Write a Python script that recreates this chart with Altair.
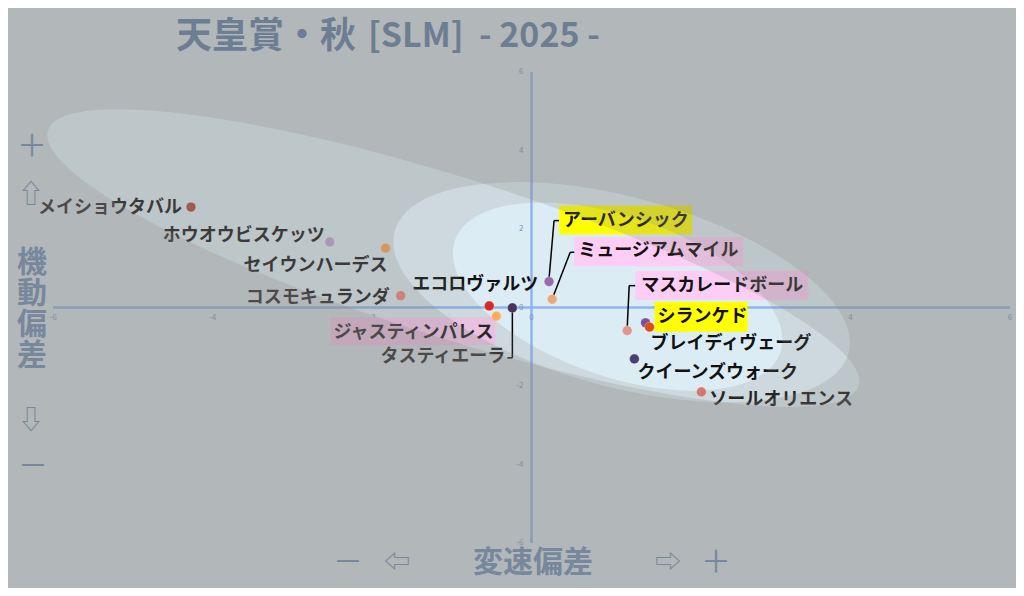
import altair as alt
import pandas as pd

# ---------------- data ----------------
horses = ["メイショウタバル", "ホウオウビスケッツ", "セイウンハーデス", "コスモキュランダ",
          "エコロヴァルツ", "ジャスティンパレス", "タスティエーラ", "アーバンシック",
          "ミュージアムマイル", "マスカレードボール", "シランケド", "ブレイディヴェーグ",
          "クイーンズウォーク", "ソールオリエンス"]
speed_dev = [-4.27, -2.53, -1.83, -1.64, -0.53, -0.44, -0.24, 0.22, 0.26, 1.20, 1.43, 1.48, 1.29, 2.13]
mobility_dev = [2.56, 1.67, 1.51, 0.30, 0.04, -0.22, -0.01, 0.66, 0.21, -0.59, -0.39, -0.50, -1.31, -2.15]
highlight = ["", "", "", "", "", "pink", "", "yellow", "pink", "pink", "yellow", "", "", ""]

tick_values = [-6, -4, -2, 0, 2, 4, 6]
axis_range = [-6, 6]

# density-ellipse centres (data units)
ellipse_names = ["outer", "middle", "inner"]
ellipse_cx = [-0.98, 1.13, 1.08]
ellipse_cy = [1.26, 0.39, 0.28]

title_main = "天皇賞・秋"
title_sub = "[SLM]\u00a0\u00a0- 2025 -"

# ---------------- styles / layout ----------------
FONT = "Noto Sans CJK JP"
SYM_FONT = "Noto Sans CJK JP, DejaVu Sans"
BG = "#dcecf4"
VEIL = "#888380"
AXIS_COLOR = "#8fb6ea"
TICK_COLOR = "#7a95c4"
DECOR_COLOR = "#77889c"
TITLE_COLOR = "#6d7e92"
dot_colors = ["#ad433d", "#b8a8d0", "#ffa154", "#f4827b", "#d62c27", "#ffac5e", "#4a3264",
              "#9a6aae", "#eba878", "#e1968c", "#7a50a0", "#dc5014", "#4b3d6e", "#e07770"]
mark_colors = {"yellow": "#ffff00", "pink": "#fdcdf6"}

# label placement: align, dx, dy (pixels from the point)
label_layout = {
    "メイショウタバル": ("right", -9, 1),
    "ホウオウビスケッツ": ("right", -5, -6),
    "セイウンハーデス": ("right", 2, 18),
    "コスモキュランダ": ("right", -11, 2),
    "エコロヴァルツ": ("right", 49, -21),
    "ジャスティンパレス": ("right", -3, 17),
    "タスティエーラ": ("right", -7, 49),
    "アーバンシック": ("left", 14, -61),
    "ミュージアムマイル": ("left", 26, -48),
    "マスカレードボール": ("left", 14, -45),
    "シランケド": ("left", 12, -6),
    "ブレイディヴェーグ": ("left", 1, 17),
    "クイーンズウォーク": ("left", 3, 14),
    "ソールオリエンス": ("left", 8, 8),
}
# highlight boxes: x1, x2, y1, y2 offsets (pixels)
box_layout = {
    "ジャスティンパレス": (-166, -1, 1, 29),
    "アーバンシック": (10, 143, -76, -47),
    "ミュージアムマイル": (22, 191, -62, -33),
    "マスカレードボール": (8, 181, -60, -31),
    "シランケド": (9, 102, -21, 9),
}
# leader segments: (dx1, dy1, dx2, dy2)
leader_layout = {
    "タスティエーラ": [(0, 2, 0, 50), (0, 50, -5, 50)],
    "アーバンシック": [(0, -3, 5, -61), (5, -61, 10, -61)],
    "ミュージアムマイル": [(1, -3, 18, -47), (18, -47, 22, -47)],
    "マスカレードボール": [(0, -3, 2, -45), (2, -45, 8, -45)],
}
# ellipse geometry: semi-major, semi-minor (px), angle (deg), veil opacity
ellipse_geom = {
    "outer": (425, 80, 17.5, 0.22),
    "middle": (235, 95, 15, 0.22),
    "inner": (172, 80, 19, 0.18),
}

W, H = 957, 471

xs = alt.Scale(domain=axis_range, nice=False, zero=False)
ys = alt.Scale(domain=axis_range, nice=False, zero=False)


def X(f):
    return alt.X(f, type="quantitative", scale=xs, axis=None)


def Y(f):
    return alt.Y(f, type="quantitative", scale=ys, axis=None)


df = pd.DataFrame({"horse": horses, "x": speed_dev, "y": mobility_dev, "mark": highlight})
ticks = pd.DataFrame({"v": tick_values, "zero": [0] * len(tick_values),
                      "label": [str(v) for v in tick_values]})
hline = pd.DataFrame({"x": [axis_range[0]], "x2": [axis_range[1]], "y": [0]})
vline = pd.DataFrame({"y": [axis_range[0]], "y2": [axis_range[1]], "x": [0]})
ell = pd.DataFrame({"name": ellipse_names, "cx": ellipse_cx, "cy": ellipse_cy})
one = pd.DataFrame({"a": [0]})

layers = []
# axis lines
layers.append(alt.Chart(hline).mark_rule(color=AXIS_COLOR, strokeWidth=2.5).encode(
    x=X("x"), x2="x2", y=Y("y")))
layers.append(alt.Chart(vline).mark_rule(color=AXIS_COLOR, strokeWidth=2.5).encode(
    y=Y("y"), y2="y2", x=X("x")))
# tick labels
layers.append(alt.Chart(ticks).mark_text(font=FONT, fontSize=8, color=TICK_COLOR, dy=10,
                                         align="center", baseline="middle").encode(
    x=X("v"), y=Y("zero"), text="label:N"))
layers.append(alt.Chart(ticks).mark_text(font=FONT, fontSize=8, color=TICK_COLOR, dx=-8,
                                         align="right", baseline="middle").encode(
    x=X("zero"), y=Y("v"), text="label:N"))

# highlight boxes
for name, (x1, x2, y1, y2) in box_layout.items():
    col = mark_colors[highlight[horses.index(name)]]
    layers.append(alt.Chart(df).transform_filter(alt.datum.horse == name).mark_rect(
        color=col, xOffset=x1, x2Offset=x2, yOffset=y1, y2Offset=y2).encode(
        x=X("x"), x2="x", y=Y("y"), y2="y"))

# leaders
for name, segs in leader_layout.items():
    for (a1, b1, a2, b2) in segs:
        layers.append(alt.Chart(df).transform_filter(alt.datum.horse == name).mark_rule(
            color="#000000", strokeWidth=1.5, xOffset=a1, yOffset=b1, x2Offset=a2, y2Offset=b2).encode(
            x=X("x"), x2="x", y=Y("y"), y2="y"))

# points
layers.append(alt.Chart(df).mark_circle(size=95, opacity=1, stroke="white", strokeWidth=0.8,
                                        strokeOpacity=0.35).encode(
    x=X("x"), y=Y("y"),
    color=alt.Color("horse:N", scale=alt.Scale(domain=horses, range=dot_colors), legend=None)))

# labels
for name, (al, dx, dy) in label_layout.items():
    layers.append(alt.Chart(df).transform_filter(alt.datum.horse == name).mark_text(
        font=FONT, fontSize=18, fontWeight="bold", color="#111111", align=al, baseline="middle",
        dx=dx, dy=dy).encode(
        x=X("x"), y=Y("y"), text="horse:N"))


# veils with elliptical holes
def veil_path(a, b):
    R = 3000
    return (f"M{-R},{-R}H{R}V{R}H{-R}Z"
            f"M{a},0A{a},{b},0,1,0,{-a},0A{a},{b},0,1,0,{a},0Z")


for n in ellipse_names:
    a, b, ang, alpha = ellipse_geom[n]
    layers.append(alt.Chart(ell).transform_filter(alt.datum.name == n).mark_point(
        shape=veil_path(a, b), size=4, angle=ang, filled=True, color=VEIL,
        opacity=alpha, strokeWidth=0).encode(x=X("cx"), y=Y("cy")))

# decorative texts (pixel positions relative to plot origin)
decor = [
    (title_main, 123, -35, "left", 36, "bold", TITLE_COLOR, FONT, 0),
    (title_sub, 315, -35, "left", 34, "bold", TITLE_COLOR, FONT, 0),
    ("＋", -21, 75, "center", 30, "normal", DECOR_COLOR, SYM_FONT, 0),
    ("⇧", -22, 123, "center", 26, "normal", DECOR_COLOR, SYM_FONT, 0),
    (["機", "動", "偏", "差"], -21, 191, "center", 30, "bold", DECOR_COLOR, FONT, 31),
    ("⇩", -22, 349, "center", 26, "normal", DECOR_COLOR, SYM_FONT, 0),
    ("－", -20, 395, "center", 30, "normal", DECOR_COLOR, SYM_FONT, 0),
    ("－", 295, 491, "center", 30, "normal", DECOR_COLOR, SYM_FONT, 0),
    ("⇦", 344, 491, "center", 26, "normal", DECOR_COLOR, SYM_FONT, 0),
    ("変速偏差", 480, 491, "center", 30, "bold", DECOR_COLOR, FONT, 0),
    ("⇨", 615, 491, "center", 26, "normal", DECOR_COLOR, SYM_FONT, 0),
    ("＋", 663, 491, "center", 30, "normal", DECOR_COLOR, SYM_FONT, 0),
]
for (t, px, py, al, fs, fw, col, fnt, lh) in decor:
    kw = dict(text=t, align=al, baseline="middle", fontSize=fs, fontWeight=fw, color=col, font=fnt)
    if lh:
        kw["lineHeight"] = lh
    layers.append(alt.Chart(one).mark_text(**kw).encode(x=alt.value(px), y=alt.value(py)))

chart = alt.layer(*layers).properties(
    width=W, height=H, background=BG,
    padding={"left": 45, "top": 64, "right": 6, "bottom": 45},
    autosize=alt.AutoSizeParams(type="none"),
).configure_view(stroke=None)

chart.save("out.html", embed_options={"renderer": "svg", "actions": False})
